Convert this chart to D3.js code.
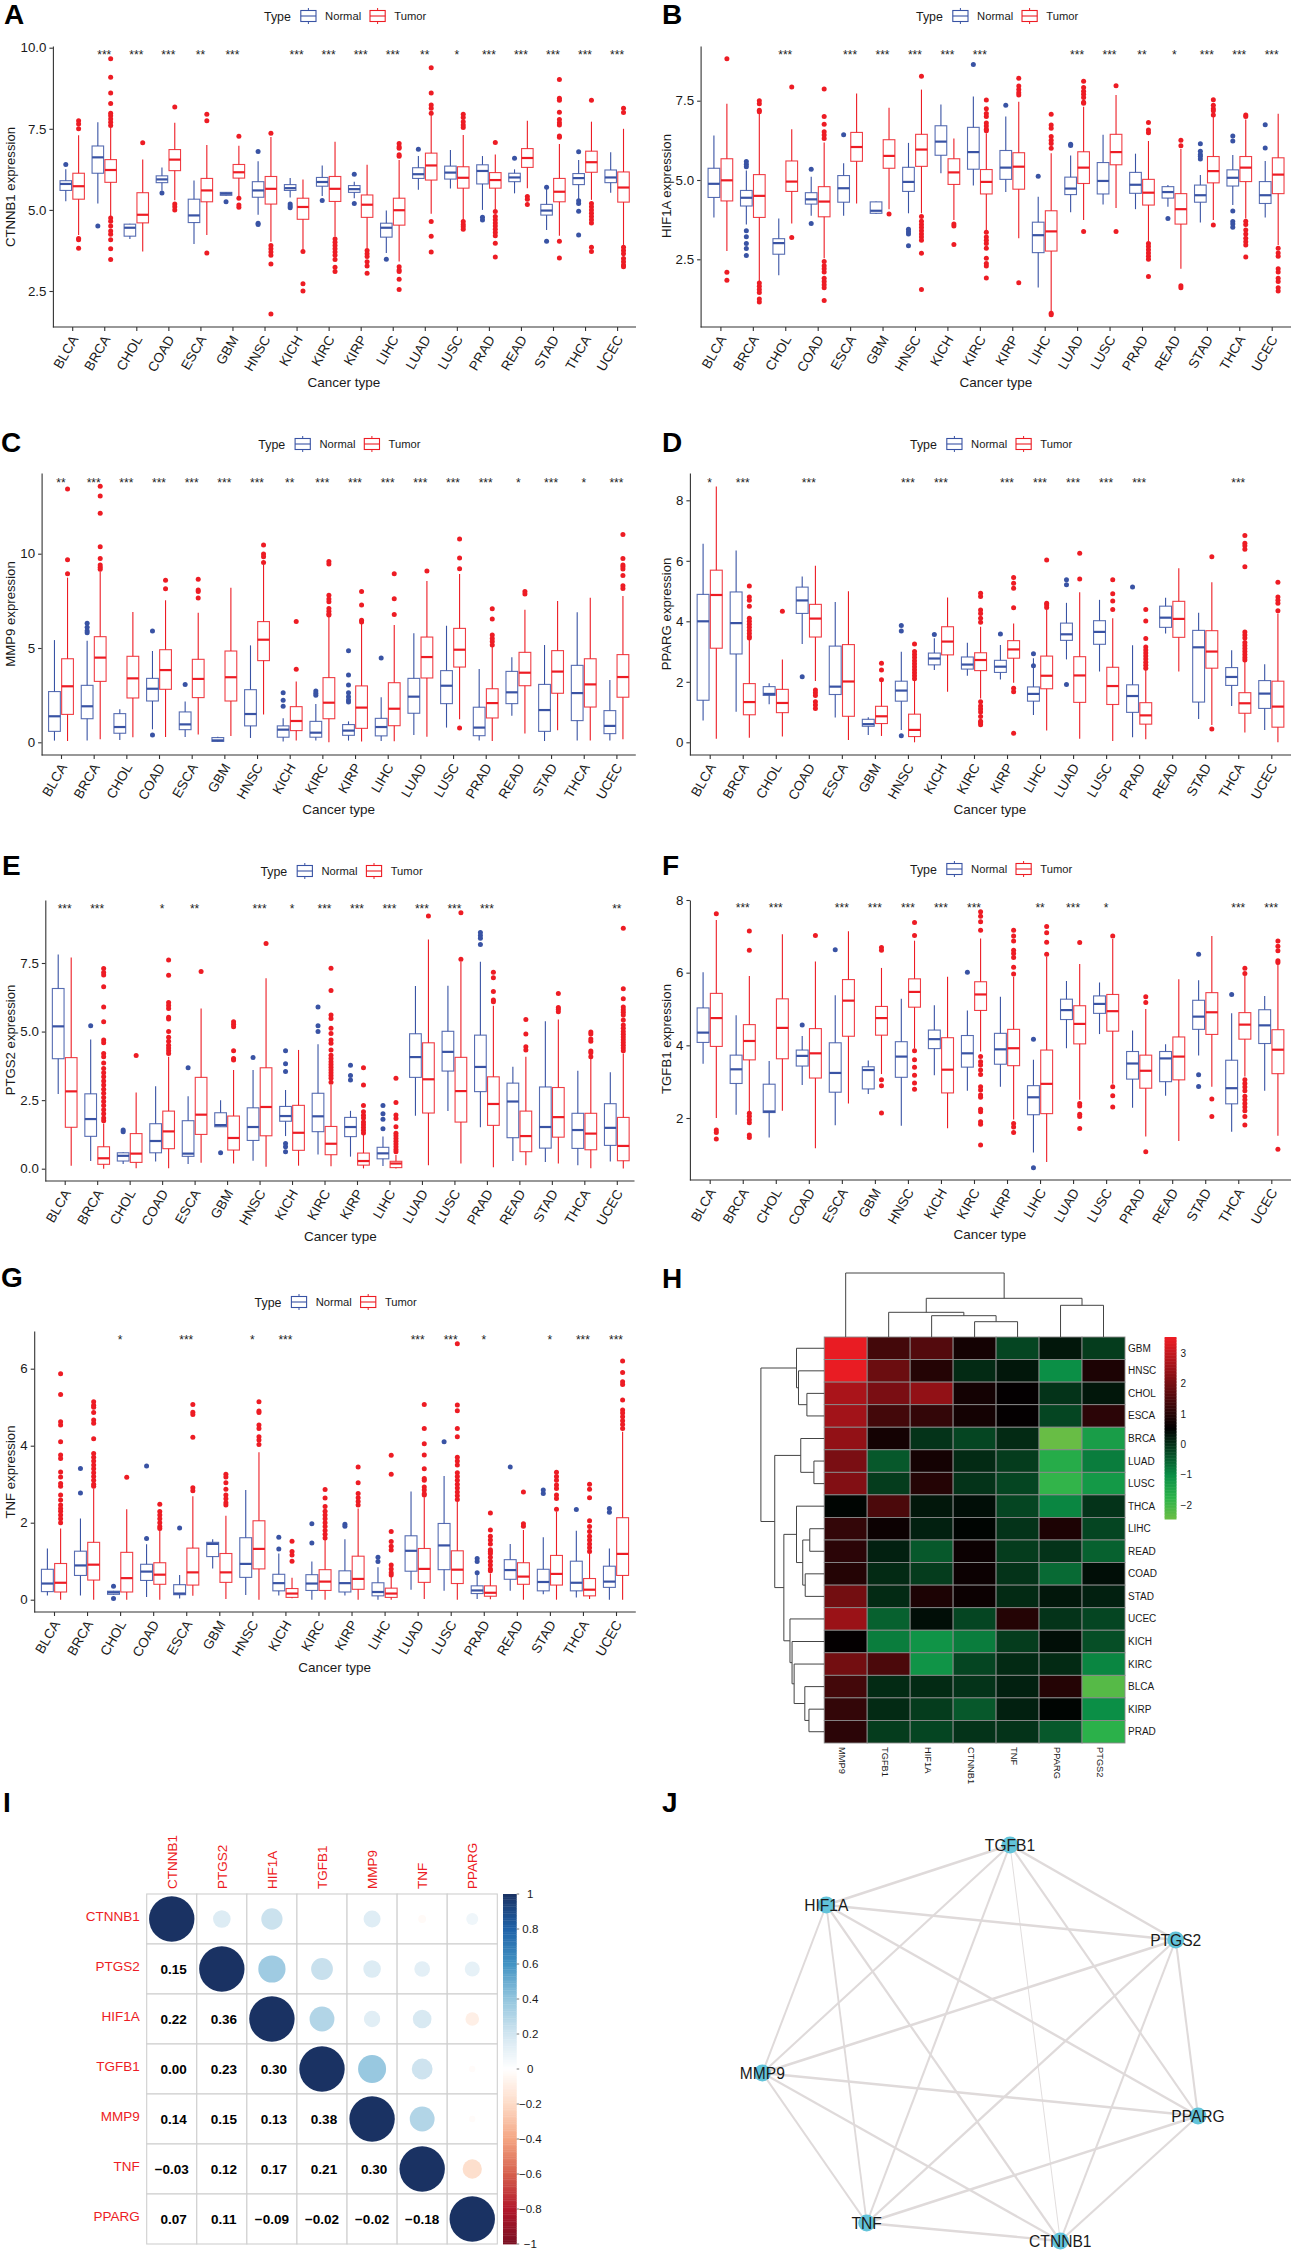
<!DOCTYPE html>
<html><head><meta charset="utf-8">
<script src="https://cdnjs.cloudflare.com/ajax/libs/d3/7.8.5/d3.min.js"></script>
<style>html,body{margin:0;padding:0;background:#fff}svg{display:block;font-family:"Liberation Sans",Arial,sans-serif}</style>
</head><body><svg id="fig" width="1291" height="2250"></svg>
<script>
// ---------- data: each box is [lower whisker, q1, median, q3, upper whisker, [outliers]] ----------
const cancers=["BLCA","BRCA","CHOL","COAD","ESCA","GBM","HNSC","KICH","KIRC","KIRP","LIHC","LUAD","LUSC","PRAD","READ","STAD","THCA","UCEC"];
const groupNames=["Normal","Tumor"];

const ctnnb1Normal=[[5.27,5.6,5.8,5.9,6.25,[6.4]],[5.2,6.13,6.62,6.97,7.7,[4.5]],[4.1,4.19,4.45,4.56,4.57,[]],[5.6,5.84,5.94,6.05,6.31,[5.52]],[3.95,4.61,4.83,5.33,5.91,[]],[5.44,5.45,5.5,5.54,5.55,[5.25]],[4.85,5.39,5.6,5.87,6.5,[6.8,4.59,4.55]],[5.38,5.6,5.67,5.78,5.98,[5.18,5.12,5.07]],[5.43,5.73,5.86,6.0,6.37,[5.29]],[5.36,5.54,5.64,5.75,5.87,[6.1,5.2]],[3.67,4.16,4.45,4.59,4.98,[3.48]],[5.62,5.97,6.1,6.3,6.66,[6.87]],[5.66,5.95,6.15,6.35,6.85,[]],[5.0,5.8,6.2,6.39,6.66,[4.77,4.69]],[5.51,5.87,6.0,6.13,6.25,[6.59]],[4.38,4.84,4.98,5.17,5.65,[5.7,4.03]],[5.31,5.78,5.98,6.12,6.54,[6.79,5.28,5.2,4.96,4.23]],[5.53,5.84,6.0,6.23,6.78,[]]];
const ctnnb1Tumor=[[4.23,5.33,5.73,6.13,7.3,[7.75,7.65,7.5,4.12,4.08,3.82]],[4.8,5.85,6.23,6.55,7.55,[9.66,9.09,8.6,8.28,7.98,7.9,7.8,7.7,7.6,4.75,4.65,4.5,4.35,4.25,4.08,3.8,3.47]],[3.72,4.6,4.85,5.53,6.55,[7.07]],[5.3,6.21,6.55,6.86,7.69,[8.17,5.18,5.1,5.0]],[4.23,5.25,5.6,5.97,7.0,[7.95,7.75,3.67]],[5.36,5.98,6.16,6.4,6.98,[7.27,5.36,5.15,5.08]],[4.02,5.18,5.65,6.03,7.25,[7.36,3.9,3.8,3.7,3.6,3.33,1.79]],[3.77,4.71,5.09,5.36,5.94,[3.72,2.72,2.5]],[4.18,5.26,5.65,6.03,7.1,[4.1,4.0,3.9,3.8,3.7,3.6,3.47,3.23,3.1]],[3.82,4.77,5.16,5.46,6.39,[3.75,3.65,3.56,3.4,3.27,3.05]],[3.41,4.53,4.99,5.36,6.54,[7.05,6.95,6.9,6.7,6.65,3.25,3.15,3.1,2.86,2.55]],[4.88,5.92,6.37,6.75,7.93,[9.38,8.6,8.23,8.13,7.98,4.64,4.19,3.7]],[4.69,5.67,5.99,6.33,7.31,[7.95,7.85,7.72,7.62,7.54,4.64,4.55,4.48,4.4]],[5.02,5.67,5.92,6.15,6.71,[7.08,4.95,4.8,4.7,4.6,4.5,4.4,4.3,4.2,3.97,3.55]],[5.67,6.31,6.6,6.89,7.75,[5.41,5.33,5.17]],[4.2,5.25,5.56,5.97,7.03,[9.02,8.44,8.38,8.01,7.79,7.69,7.62,7.28,7.24,4.03,3.52]],[5.31,6.16,6.47,6.81,7.72,[8.38,5.2,5.1,5.0,4.9,4.8,4.7,4.6,3.85,3.72]],[3.92,5.24,5.69,6.17,7.5,[8.13,8.0,3.85,3.75,3.65,3.5,3.4,3.3,3.25]]];
const ctnnb1Stars=["","***","***","***","**","***","","***","***","***","***","**","*","***","***","***","***","***"];

const hif1aNormal=[[3.82,4.45,4.88,5.37,6.4,[]],[3.6,4.18,4.44,4.67,5.3,[5.58,5.5,5.42,3.4,3.21,3.0,2.84,2.62]],[2.0,2.66,3.01,3.15,3.79,[]],[3.87,4.24,4.39,4.6,5.1,[5.34,3.63]],[3.87,4.3,4.74,5.14,5.53,[6.43]],[3.93,3.95,4.03,4.31,4.32,[]],[3.95,4.64,4.94,5.4,6.17,[3.45,3.37,3.3,2.93]],[5.21,5.78,6.21,6.71,7.38,[]],[4.83,5.34,5.88,6.66,7.63,[8.64]],[4.62,5.02,5.39,5.93,7.0,[7.36]],[1.61,2.71,3.26,3.67,4.47,[5.12]],[3.98,4.54,4.73,5.09,5.77,[6.13,6.09]],[4.23,4.56,4.97,5.55,6.43,[]],[4.08,4.58,4.85,5.24,5.83,[]],[4.16,4.43,4.62,4.79,4.84,[3.79]],[3.66,4.3,4.52,4.84,5.16,[6.14,5.91,5.8,5.75,5.66]],[4.21,4.81,5.07,5.32,5.79,[6.39,6.23,4.02,3.69,3.61,3.51]],[3.82,4.26,4.52,4.95,5.6,[6.74,6.01]]];
const hif1aTumor=[[2.76,4.34,4.99,5.67,7.4,[8.82,2.09,1.84]],[1.8,3.82,4.5,5.17,7.1,[7.5,7.4,7.2,7.15,1.75,1.65,1.55,1.45,1.25,1.15]],[3.63,4.64,4.95,5.6,6.6,[7.93,3.19]],[2.53,3.84,4.32,4.79,6.18,[7.87,7.0,6.76,6.52,6.42,6.31,2.43,2.3,2.2,2.1,1.9,1.8,1.7,1.6,1.2]],[4.26,5.59,6.04,6.5,7.73,[]],[4.08,5.37,5.76,6.27,7.28,[3.93]],[3.95,5.43,5.96,6.44,7.85,[8.27,3.85,3.7,3.6,3.5,3.4,3.3,3.2,3.1,2.69,1.55]],[3.74,4.86,5.24,5.67,6.31,[3.61,3.55,2.97]],[3.42,4.56,4.94,5.33,6.47,[7.52,7.25,7.1,7.0,6.8,6.7,6.6,6.55,3.35,3.2,3.1,3.0,2.85,2.53,2.37,2.29,1.91]],[3.16,4.71,5.42,5.86,7.47,[8.21,7.96,7.85,7.75,7.68,1.76]],[0.85,2.76,3.38,4.03,5.84,[7.07,6.73,6.63,6.37,6.25,6.15,6.0,0.8,0.75]],[3.74,4.89,5.39,5.89,7.31,[8.11,7.92,7.8,7.7,7.6,7.45,7.42,3.38]],[4.12,5.48,5.88,6.44,7.68,[7.97,3.38]],[3.06,4.21,4.6,5.02,6.23,[6.81,6.58,6.49,3.0,2.9,2.8,2.7,2.6,2.5,1.96]],[2.2,3.61,4.08,4.57,5.98,[6.25,6.08,1.67,1.6]],[3.74,4.91,5.28,5.74,7.0,[7.53,7.36,7.25,7.18,7.05,3.58]],[3.79,4.95,5.39,5.74,6.91,[7.05,7.0,3.7,3.6,3.42,3.3,3.16,3.05,2.95,2.57]],[2.95,4.57,5.17,5.7,7.09,[2.85,2.7,2.6,2.2,2.1,1.9,1.8,1.6,1.5]]];
const hif1aStars=["","","***","","***","***","***","***","***","","","***","***","**","*","***","***","***"];

const mmp9Normal=[[0.09,0.58,1.38,2.69,5.42,[]],[0.09,1.25,1.91,3.02,5.39,[6.31,6.1,5.92,5.81]],[0.12,0.48,0.81,1.52,1.75,[]],[0.69,2.19,2.84,3.39,4.84,[5.9,0.39]],[0.28,0.67,0.95,1.61,2.16,[3.07]],[0.03,0.05,0.1,0.25,0.3,[]],[0.23,0.87,1.5,2.79,5.14,[]],[0.04,0.27,0.67,0.87,1.27,[2.63,2.23,1.91]],[0.09,0.27,0.51,1.11,2.03,[2.72,2.6,2.49]],[0.09,0.37,0.62,0.94,1.11,[4.86,3.57,3.04,2.63,2.42,2.24,2.14]],[0.07,0.34,0.81,1.27,2.39,[4.47]],[0.39,1.54,2.42,3.39,5.78,[]],[0.78,2.05,3.0,3.8,6.18,[]],[0.09,0.35,0.78,1.86,3.89,[]],[1.41,2.05,2.65,3.76,4.51,[]],[0.07,0.58,1.71,3.07,5.16,[]],[0.09,1.15,2.61,4.08,6.89,[]],[0.09,0.46,0.87,1.68,3.3,[]]];
const mmp9Tumor=[[0.07,1.48,2.97,4.43,8.73,[13.43,9.68,8.94]],[0.16,3.23,4.49,5.6,9.05,[13.57,13.06,12.14,10.37,9.75,9.4,9.28,9.17]],[0.27,2.35,3.39,4.56,6.91,[]],[0.28,2.81,3.83,4.91,7.53,[8.59,8.14]],[0.42,2.37,3.36,4.4,6.87,[8.64,8.07,7.99,7.65]],[0.34,2.19,3.45,4.84,8.2,[]],[1.48,4.33,5.44,6.4,9.4,[10.46,9.98,9.84,9.54]],[0.09,0.62,1.13,1.89,3.22,[6.4,3.87]],[0,1.25,2.1,3.43,6.66,[9.58,9.45,7.8,7.6,7.45,7.1,6.95,6.8,6.75]],[0.04,0.74,1.84,2.99,6.3,[7.99,7.28,6.47,6.38]],[0.05,0.88,1.78,3.16,6.22,[8.94,7.61,6.78]],[0.3,3.41,4.52,5.58,8.55,[9.08]],[1.22,3.99,4.91,6.04,8.92,[10.78,9.77,9.2,0.76]],[0.07,1.29,2.08,2.84,5.07,[7.08,6.54,5.69,5.51,5.34,5.16]],[0.46,3.0,3.69,4.77,7.03,[7.99,7.86]],[0.64,2.6,3.75,4.86,7.49,[]],[0.09,1.87,3.07,4.43,7.67,[]],[0.16,2.39,3.46,4.65,7.76,[11.02,9.74,9.4,9.31,9.19,8.85,8.3,8.16]]];
const mmp9Stars=["**","***","***","***","***","***","***","**","***","***","***","***","***","***","*","***","*","***"];

const ppargNormal=[[0.72,1.39,4.0,4.89,6.56,[]],[1.01,2.92,3.94,4.97,6.34,[]],[1.26,1.55,1.6,1.84,1.95,[]],[3.25,4.26,4.69,5.13,5.48,[2.17]],[0.82,1.58,1.84,3.18,4.64,[]],[0.24,0.53,0.6,0.76,0.83,[]],[0.41,1.36,1.71,2.02,2.99,[3.86,3.68,0.22]],[2.39,2.56,2.77,2.95,3.44,[3.56]],[2.2,2.42,2.57,2.82,3.29,[]],[2.08,2.31,2.5,2.71,3.22,[3.58]],[0.9,1.36,1.6,1.83,2.78,[2.93,2.53]],[2.74,3.37,3.57,3.94,4.61,[5.37,5.21,1.91]],[2.34,3.24,3.65,4.02,4.71,[]],[0.17,0.99,1.53,1.9,3.21,[5.13]],[3.6,3.8,4.12,4.5,4.78,[]],[0.77,1.33,3.14,3.7,4.28,[]],[1.2,1.88,2.16,2.47,3.04,[]],[0.41,1.12,1.61,2.04,2.58,[]]];
const ppargTumor=[[0.12,3.11,4.87,5.69,8.46,[]],[0.15,0.91,1.33,1.94,3.38,[5.17,4.8,4.7,4.5,4.1,4.0,3.9,3.8,3.7,3.6,3.5,3.45]],[0.19,0.98,1.3,1.75,2.74,[4.33]],[2.03,3.48,4.09,4.56,5.84,[1.73,1.64,1.55,1.34,1.23,1.12]],[0.08,0.86,2.01,3.23,4.99,[]],[0.21,0.62,0.86,1.19,2.0,[2.61,2.39,2.07]],[0,0.19,0.41,0.93,2.17,[3.25,3.0,2.9,2.8,2.7,2.6,2.5,2.4,2.3,2.2,2.1]],[1.67,2.89,3.33,3.82,4.79,[]],[1.45,2.37,2.72,2.96,3.82,[4.93,4.82,4.37,4.26,4.1,3.97,1.34,1.2,1.1,1.0,0.85,0.7,0.65,0.58]],[1.97,2.78,3.07,3.36,3.93,[5.45,5.26,5.09,4.45,1.79,1.67,0.3]],[0.39,1.77,2.2,2.85,4.37,[6.03,4.6,4.54,4.46]],[0.12,1.32,2.21,2.83,4.96,[6.25,5.4]],[0.04,1.25,1.86,2.48,4.1,[5.37,4.91,4.67,4.39]],[0.1,0.6,0.89,1.31,2.45,[4.39,4.01,3.43,3.15,3.05,2.95,2.85,2.75,2.65,2.55,2.45]],[2.34,3.47,4.08,4.66,5.75,[]],[0.57,2.45,3.0,3.69,5.29,[6.13,0.44]],[0.32,0.96,1.29,1.64,2.67,[6.84,6.58,6.5,6.38,5.8,3.65,3.55,3.45,3.3,3.2,3.1,3.0,2.9,2.8,2.72]],[0,0.5,1.18,2.02,4.26,[5.29,4.8,4.7,4.6,4.35]]];
const ppargStars=["*","***","","***","","","***","***","","***","***","***","***","***","","","***",""];

const ptgs2Normal=[[2.72,4.01,5.19,6.57,7.81,[]],[0.28,1.18,1.81,2.73,4.71,[5.21]],[0.17,0.28,0.47,0.58,0.6,[1.41,1.35]],[0.26,0.58,1.01,1.64,3.01,[]],[0.17,0.45,0.55,1.75,2.64,[3.68]],[1.52,1.53,1.59,2.04,2.5,[0.58]],[0.29,1.03,1.52,2.22,3.6,[4.05]],[1.19,1.73,1.92,2.27,2.87,[4.3,3.83,3.54,0.92,0.8,0.62]],[0.52,1.35,1.91,2.75,4.54,[5.9,5.21,5.0]],[0.44,1.17,1.52,1.87,2.11,[3.77,3.4,3.23]],[0.1,0.36,0.56,0.78,1.17,[2.3,2.0,1.8,1.46]],[1.93,3.33,4.07,4.92,6.66,[]],[2.1,3.56,4.26,5.01,6.67,[]],[1.51,2.81,3.71,4.87,7.55,[8.61,8.5,8.4,8.17]],[0.28,1.13,2.45,3.12,3.72,[]],[0.24,0.75,1.52,2.98,5.38,[]],[0.13,0.74,1.41,2.02,3.57,[]],[0.26,0.85,1.49,2.37,3.52,[]]];
const ptgs2Tumor=[[0.11,1.51,2.82,4.05,7.7,[]],[0,0.16,0.38,0.8,1.65,[7.3,7.15,7.06,6.63,5.9,5.36,4.69,4.59,4.2,4.08,3.85,3.65,3.5,3.35,3.2,3.05,2.9,2.75,2.6,2.45,2.3,2.15,2.0,1.85,1.75]],[0.02,0.23,0.55,1.28,2.78,[4.13]],[0.02,0.73,1.36,2.1,4.08,[7.61,7.05,6.06,5.95,5.84,5.52,5.46,5.0,4.79,4.65,4.5,4.4,4.3,4.2]],[0.22,1.25,1.97,3.33,5.84,[7.19]],[0.19,0.68,1.12,1.92,3.6,[5.36,5.27,5.18,4.3,4.02,3.96]],[0.07,1.2,2.25,3.68,6.94,[8.21]],[0.11,0.67,1.31,2.31,4.33,[]],[0.09,0.51,0.91,1.54,3.05,[7.31,6.5,5.6,5.48,5.12,4.93,4.69,4.57,4.33,4.14,4.02,3.9,3.8,3.7,3.6,3.5,3.4,3.3,3.15]],[0.01,0.13,0.28,0.57,1.35,[3.68,3.05,2.3,2.08,1.95,1.85,1.7,1.6,1.5,1.4,1.3]],[0.01,0.04,0.19,0.27,0.5,[3.3,2.41,1.96,1.83,1.53,1.29,1.2,1.1,1.0,0.9,0.8,0.7,0.62]],[0.13,2.03,3.26,4.59,8.36,[9.21]],[0.19,1.7,2.83,4.06,7.55,[9.33,7.64]],[0.05,1.58,2.36,3.35,5.94,[7.16,6.96,6.46,6.15,6.09]],[0.13,0.62,1.19,2.1,4.08,[5.44,4.91,4.45,4.33]],[0.19,1.15,1.88,2.96,5.44,[6.39,5.88,5.81,5.72]],[0.02,0.69,1.28,2.02,4.08,[4.98,4.91,4.73,4.65,4.29,4.23,4.08]],[0.01,0.29,0.83,1.87,4.2,[8.77,6.56,6.2,5.9,5.8,5.7,5.6,5.42,5.24,5.12,5.0,4.9,4.8,4.7,4.6,4.5,4.4,4.3]]];
const ptgs2Stars=["***","***","","*","**","","***","*","***","***","***","***","***","***","","","","**"];

const tgfb1Normal=[[3.49,4.08,4.35,5.03,6.01,[]],[2.09,2.95,3.34,3.73,4.83,[]],[1.46,2.15,2.18,2.93,3.57,[]],[2.91,3.43,3.71,3.87,4.26,[4.56]],[1.8,2.71,3.24,4.07,5.38,[6.63]],[2.66,2.8,3.32,3.41,3.58,[]],[1.79,3.12,3.69,4.1,5.28,[]],[3.18,3.91,4.17,4.42,5.1,[]],[2.75,3.4,3.78,4.27,4.96,[6.01]],[2.86,3.48,3.89,4.33,5.34,[]],[1.05,2.09,2.57,2.89,3.6,[4.17,0.63]],[3.92,4.71,4.97,5.27,5.77,[]],[4.31,4.88,5.14,5.36,5.73,[]],[2.28,3.07,3.5,3.83,4.41,[]],[2.61,3.0,3.64,3.83,4.03,[]],[3.72,4.44,4.79,5.24,5.79,[6.51,3.19,2.87]],[1.62,2.39,2.82,3.59,4.88,[5.4]],[2.75,4.05,4.55,4.98,5.36,[]]];
const tgfb1Tumor=[[2.0,3.97,4.75,5.43,7.45,[7.62,1.67,1.6,1.42]],[2.17,3.6,4.12,4.57,5.91,[7.15,6.62,2.13,2.05,1.95,1.87,1.53,1.46]],[2.2,3.63,4.48,5.28,7.06,[]],[1.17,3.1,3.78,4.46,6.31,[7.02]],[2.4,4.25,5.23,5.81,7.14,[]],[3.21,4.28,4.75,5.07,6.13,[6.69,6.62,3.05,2.89,2.14]],[3.92,5.05,5.47,5.83,6.88,[7.38,7.02,3.85,3.6,3.4,3.18,2.96,2.79]],[1.72,2.69,3.33,4.21,5.89,[]],[3.83,4.96,5.4,5.75,6.94,[7.68,7.55,7.4,7.17,3.69,3.55,3.46,3.32,3.2,2.86,2.77,2.63,2.57,2.24,2.17,1.9,1.83,1.26]],[1.96,3.44,3.92,4.44,5.89,[7.17,7.01,6.87,6.62,6.53,6.42,6.15,5.96,1.85,1.75,1.6]],[0.79,2.12,2.94,3.87,6.44,[7.27,7.1,6.84,6.51]],[2.5,4.04,4.59,5.09,6.24,[6.83,2.4,2.33,2.1,2.04,1.71]],[2.94,4.39,4.94,5.4,6.93,[7.01,2.86,2.61,2.3]],[1.49,2.82,3.3,3.73,5.0,[5.34,5.18,1.07]],[1.37,3.05,3.69,4.23,5.82,[]],[2.86,4.3,4.91,5.45,7.01,[2.52,2.04]],[3.14,4.17,4.57,4.9,5.92,[6.12,5.98,3.05,2.95,2.85,2.75,2.6,2.5,2.4,2.3,2.2,2.04,1.81]],[1.51,3.22,3.88,4.43,6.24,[6.87,6.73,6.6,6.33,6.28,1.14]]];
const tgfb1Stars=["","***","***","","***","***","***","***","***","","**","***","*","","","","***","***"];

const tnfNormal=[[0.11,0.21,0.42,0.79,1.33,[]],[0.11,0.63,0.89,1.26,2.11,[3.41,2.77]],[0.13,0.14,0.19,0.22,0.23,[0.35,0.03]],[0.07,0.5,0.73,0.92,1.44,[3.47,1.59]],[0.03,0.13,0.16,0.39,0.64,[1.86]],[0.81,1.12,1.45,1.49,1.57,[]],[0.12,0.58,0.93,1.61,2.85,[]],[0.11,0.23,0.43,0.66,1.2,[1.62,1.32]],[0,0.24,0.42,0.65,0.99,[1.97,1.47]],[0.11,0.2,0.43,0.75,1.57,[1.96,1.91]],[0,0.1,0.2,0.44,0.84,[1.1,0.99]],[0.26,0.74,1.27,1.66,2.81,[]],[0.23,0.78,1.41,1.98,3.21,[4.1]],[0.02,0.16,0.24,0.36,0.64,[1.07,0.99,0.7]],[0.23,0.53,0.77,1.04,1.45,[3.45]],[0.14,0.23,0.46,0.79,1.62,[2.85,2.76]],[0.06,0.23,0.44,1.0,1.79,[2.34]],[0,0.32,0.47,0.87,1.33,[2.37,2.27]]];
const tnfTumor=[[0,0.2,0.44,0.94,1.85,[5.87,5.33,4.62,4.54,4.1,3.76,3.67,3.32,3.19,3.02,2.95,2.72,2.59,2.46,2.37,2.3,2.2,2.1,2.0]],[0,0.51,0.91,1.49,2.89,[5.14,5.05,5.0,4.86,4.67,4.58,4.18,3.8,3.7,3.6,3.5,3.4,3.3,3.2,3.1,3.0,2.95]],[0,0.2,0.56,1.23,2.35,[3.18]],[0,0.4,0.65,0.96,1.81,[2.48,2.29,2.2,2.1,2.0,1.9,1.85]],[0.1,0.38,0.71,1.34,2.69,[5.07,4.87,4.81,4.22,2.91,2.83]],[0.02,0.45,0.71,1.2,2.18,[3.26,3.19,3.04,2.87,2.72,2.62,2.52,2.46]],[0,0.8,1.32,2.05,3.83,[5.14,4.9,4.86,4.54,4.45,4.23,4.15,4.03]],[0.04,0.06,0.16,0.29,0.57,[1.52,1.25,1.16,1.0]],[0,0.24,0.47,0.78,1.57,[2.86,2.64,2.42,2.3,2.2,2.1,2.0,1.9,1.8,1.7,1.6]],[0,0.27,0.54,1.13,2.37,[3.45,3.04,2.76,2.65,2.55,2.46]],[0,0.06,0.16,0.3,0.6,[3.75,3.26,1.77,1.51,1.39,1.29,0.9,0.8,0.7,0.64]],[0.02,0.45,0.8,1.33,2.66,[5.07,4.45,4.05,3.76,3.4,3.15,3.1,2.93,2.85,2.75,2.72]],[0,0.42,0.78,1.27,2.55,[6.65,5.06,4.91,4.45,4.23,3.7,3.6,3.5,3.3,3.2,3.1,3.0,2.9,2.8,2.7,2.6]],[0.01,0.09,0.18,0.36,0.68,[2.25,1.81,1.65,1.55,1.45,1.3,1.25,1.2,1.1,1.0,0.9,0.8,0.75]],[0,0.4,0.6,0.96,1.81,[2.8,1.97,1.91]],[0,0.38,0.67,1.15,2.29,[3.31,3.2,3.1,2.98,2.89,2.72,2.63,2.35]],[0.02,0.1,0.26,0.55,1.2,[3.0,2.87,2.65,2.05,1.9,1.77,1.65,1.55,1.45,1.35,1.25]],[0,0.63,1.19,2.13,4.36,[6.2,5.9,5.66,5.59,5.19,4.93,4.85,4.75,4.65,4.55,4.45]]];
const tnfStars=["","","*","","***","","*","***","","","","***","***","*","","*","***","***"];

// heat map
const heatColumns=["MMP9","TGFB1","HIF1A","CTNNB1","TNF","PPARG","PTGS2"];
const heatRows=["GBM","HNSC","CHOL","ESCA","BRCA","LUAD","LUSC","THCA","LIHC","READ","COAD","STAD","UCEC","KICH","KIRC","BLCA","KIRP","PRAD"];
const heatValues=[[3.5,1.4,1.6,0.8,-0.2,0.3,-0.1],[3.5,1.9,1.0,0.1,0.3,-1.0,0.9],[2.7,2.1,2.4,0.8,0.6,0.0,0.3],[2.6,1.4,1.2,0.8,0.6,-0.2,1.1],[2.4,0.8,0.0,-0.2,0.1,-2.4,-1.3],[2.1,-0.4,0.8,0.1,-0.1,-1.6,-0.8],[2.2,-0.1,1.0,0.0,-0.2,-1.8,-1.2],[0.5,1.5,0.3,0.4,-0.2,-0.9,0.0],[1.2,0.7,0.2,0.5,0.0,0.9,-0.2],[1.1,0.2,-0.4,0.7,-0.1,0.0,-0.5],[1.0,0.1,-0.1,0.7,0.0,-0.6,0.4],[2.0,0.1,0.9,0.7,0.1,0.3,0.2],[2.5,-0.5,0.4,-0.2,1.0,0.0,-0.2],[0.6,-0.8,-1.1,-0.8,-0.1,0.4,-0.3],[2.0,1.5,-1.1,-0.2,0.1,0.1,-0.9],[1.4,0.1,0.1,0.0,0.2,1.0,-2.2],[1.2,0.1,-0.1,-0.4,0.2,0.5,-1.0],[1.1,-0.1,-0.2,0.0,0.0,-0.4,-1.7]];
const heatTicks=[3,2,1,0,-1,-2];
const columnTree=[64,'MMP9',[38.7,[24.7,'TGFB1',[21.3,'HIF1A',[15.3,'CTNNB1','TNF']]],[31.7,'PPARG','PTGS2']]];
const rowTree=[64,[28,'GBM',[26,'HNSC',[17.5,'CHOL','ESCA']]],[50,[23.7,'BRCA',[10.4,'LUAD','LUSC']],[40.8,[28,'THCA',[21.7,[14.6,'LIHC','READ'],[19.2,'COAD','STAD']]],[34.6,'UCEC',[32.5,'KICH',[30.4,'KIRC',[19.6,'BLCA',[15.4,'KIRP','PRAD']]]]]]]];

// correlation matrix
const corrGenes=["CTNNB1","PTGS2","HIF1A","TGFB1","MMP9","TNF","PPARG"];
const corrValues=[[1,0.15,0.22,0,0.14,-0.03,0.07],[0.15,1,0.36,0.23,0.15,0.12,0.11],[0.22,0.36,1,0.30,0.13,0.17,-0.09],[0,0.23,0.30,1,0.38,0.21,-0.02],[0.14,0.15,0.13,0.38,1,0.30,-0.02],[-0.03,0.12,0.17,0.21,0.30,1,-0.18],[0.07,0.11,-0.09,-0.02,-0.02,-0.18,1]];
const corrTicks=[1,0.8,0.6,0.4,0.2,0,-0.2,-0.4,-0.6,-0.8,-1];

// network
const netNodes=["TGFB1","HIF1A","PTGS2","MMP9","PPARG","TNF","CTNNB1"];
const netEdges=[["TGFB1","HIF1A",1],["TGFB1","PTGS2",1],["TGFB1","MMP9",0.85],["TGFB1","TNF",0.85],["TGFB1","CTNNB1",0.3],["TGFB1","PPARG",0.9],["HIF1A","PTGS2",1.1],["HIF1A","MMP9",0.8],["HIF1A","TNF",0.75],["HIF1A","CTNNB1",0.9],["HIF1A","PPARG",1],["PTGS2","MMP9",1.1],["PTGS2","TNF",0.95],["PTGS2","CTNNB1",0.85],["PTGS2","PPARG",0.85],["MMP9","PPARG",1.1],["MMP9","TNF",0.85],["MMP9","CTNNB1",0.95],["TNF","PPARG",1.05],["TNF","CTNNB1",1],["PPARG","CTNNB1",0.85]];

// ---------- layout (not data) ----------
const FONT_INK="#1a1a1a", BLUE="#3953A4", RED="#ED1C24";
const groupColor=[BLUE,RED];
const netLayout={TGFB1:[1010,1845],HIF1A:[826.3,1905],PTGS2:[1175.7,1940],MMP9:[762.4,2073],PPARG:[1198,2116],TNF:[866.7,2223],CTNNB1:[1060.3,2241]};
const panels=[
 {letter:"A",lx:4,ly:24,gene:"CTNNB1",n:ctnnb1Normal,t:ctnnb1Tumor,stars:ctnnb1Stars,axisX:52.9,right:636,first:72.2,last:617.1,top:46,bottom:327,cal:[10,47.7,2.5,291],ticks:[2.5,5,7.5,10],fmt:".1f",starY:52,legX:264,legY:16,titleX:344,titleY:382,yTitleX:10,yTitleY:187},
 {letter:"B",lx:662,ly:24,gene:"HIF1A",n:hif1aNormal,t:hif1aTumor,stars:hif1aStars,axisX:700.6,right:1291,first:720.4,last:1271.7,top:46,bottom:327,cal:[7.5,100.7,2.5,259.3],ticks:[2.5,5,7.5],fmt:".1f",starY:52,legX:916,legY:16,titleX:996,titleY:382,yTitleX:665.6,yTitleY:186},
 {letter:"C",lx:1,ly:452,gene:"MMP9",n:mmp9Normal,t:mmp9Tumor,stars:mmp9Stars,axisX:41.6,right:635.8,first:61,last:616.4,top:473,bottom:755,cal:[10,553.7,0,742.3],ticks:[0,5,10],fmt:"d",starY:480,legX:258.3,legY:444,titleX:338.7,titleY:809,yTitleX:10,yTitleY:614},
 {letter:"D",lx:662,ly:452,gene:"PPARG",n:ppargNormal,t:ppargTumor,stars:ppargStars,axisX:689.9,right:1291,first:709.7,last:1271.3,top:473,bottom:755,cal:[8,500.3,0,742.3],ticks:[0,2,4,6,8],fmt:"d",starY:480,legX:910,legY:444,titleX:990,titleY:809,yTitleX:665.6,yTitleY:614},
 {letter:"E",lx:2,ly:875,gene:"PTGS2",n:ptgs2Normal,t:ptgs2Tumor,stars:ptgs2Stars,axisX:45.3,right:634.5,first:64.7,last:616.8,top:900,bottom:1181,cal:[7.5,963,0,1168.7],ticks:[0,2.5,5,7.5],fmt:".1f",starY:906,legX:260.4,legY:871,titleX:340.3,titleY:1236,yTitleX:10,yTitleY:1040},
 {letter:"F",lx:662,ly:875,gene:"TGFB1",n:tgfb1Normal,t:tgfb1Tumor,stars:tgfb1Stars,axisX:689.9,right:1291,first:709.7,last:1271.3,top:900,bottom:1180,cal:[8,900,2,1118],ticks:[2,4,6,8],fmt:"d",starY:905,legX:910,legY:869,titleX:990,titleY:1234,yTitleX:665.6,yTitleY:1039},
 {letter:"G",lx:1,ly:1287,gene:"TNF",n:tnfNormal,t:tnfTumor,stars:tnfStars,axisX:34.2,right:635.8,first:54,last:616,top:1331,bottom:1612,cal:[6,1368.7,0,1599.7],ticks:[0,2,4,6],fmt:"d",starY:1337,legX:254.6,legY:1302,titleX:334.6,titleY:1667,yTitleX:10,yTitleY:1472}
];
const svg=d3.select("#fig");
svg.append("rect").attr("width",1291).attr("height",2250).attr("fill","#fff");
function letter(t,x,y){svg.append("text").attr("x",x).attr("y",y).attr("font-size",28).attr("font-weight","bold").attr("fill","#000").text(t);}

function drawBoxPanel(p){
  letter(p.letter,p.lx,p.ly);
  const g=svg.append("g");
  const x=d3.scalePoint().domain(cancers).range([p.first,p.last]);
  const cal=d3.scaleLinear().domain([p.cal[0],p.cal[2]]).range([p.cal[1],p.cal[3]]);
  const y=d3.scaleLinear().domain([cal.invert(p.bottom),cal.invert(p.top)]).range([p.bottom,p.top]);
  const step=x.step(), bw=step*0.36, off=step*0.2;
  const dodge=d3.scaleOrdinal().domain(groupNames).range([-off,off]);
  [p.n,p.t].forEach((series,gi)=>{
    const col=groupColor[gi], name=groupNames[gi];
    const marks=g.append("g").selectAll("g").data(series).join("g")
      .attr("transform",(d,i)=>`translate(${x(cancers[i])+dodge(name)},0)`);
    marks.append("line").attr("y1",d=>y(d[0])).attr("y2",d=>y(d[4])).attr("stroke",col).attr("stroke-width",1.1);
    marks.append("rect").attr("x",-bw/2).attr("width",bw).attr("y",d=>y(d[3])).attr("height",d=>Math.max(0.5,y(d[1])-y(d[3])))
      .attr("fill","#fff").attr("stroke",col).attr("stroke-width",1.1).attr("stroke-opacity",0.85);
    marks.append("line").attr("x1",-bw/2).attr("x2",bw/2).attr("y1",d=>y(d[2])).attr("y2",d=>y(d[2])).attr("stroke",col).attr("stroke-width",2.2);
    marks.selectAll("circle").data(d=>d[5]).join("circle").attr("cy",d=>y(d)).attr("r",2.5).attr("fill",col);
  });
  // stars
  g.append("g").selectAll("text").data(p.stars).join("text")
    .attr("x",(d,i)=>x(cancers[i])).attr("y",p.starY+7).attr("text-anchor","middle").attr("font-size",12).attr("fill","#222").text(d=>d);
  // axes
  const ya=g.append("g").attr("transform",`translate(${p.axisX},0)`)
    .call(d3.axisLeft(y).tickValues(p.ticks).tickFormat(d3.format(p.fmt)).tickSize(3.5).tickSizeOuter(0));
  ya.selectAll("text").attr("font-size",13.3).attr("font-family","inherit").attr("fill",FONT_INK);
  ya.selectAll("line,path").attr("stroke","#333").attr("stroke-width",1.1);
  const xa=g.append("g").attr("transform",`translate(0,${p.bottom})`)
    .call(d3.axisBottom(x).tickSize(4).tickSizeOuter(0));
  xa.select(".domain").remove();
  xa.selectAll("line").attr("stroke","#333").attr("stroke-width",1.1);
  xa.selectAll("text").attr("font-size",13.6).attr("font-family","inherit").attr("fill",FONT_INK)
    .attr("text-anchor","end").attr("dy",0).attr("y",0)
    .attr("transform","translate(6,12) rotate(-60)");
  g.append("line").attr("x1",p.axisX).attr("x2",p.right).attr("y1",p.bottom).attr("y2",p.bottom).attr("stroke","#333").attr("stroke-width",1.2);
  // titles
  g.append("text").attr("x",p.titleX).attr("y",p.titleY+5).attr("text-anchor","middle").attr("font-size",13.5).attr("fill",FONT_INK).text("Cancer type");
  g.append("text").attr("transform",`translate(${p.yTitleX+5},${p.yTitleY}) rotate(-90)`).attr("text-anchor","middle").attr("font-size",13.2).attr("fill",FONT_INK).text(p.gene+" expression");
  // legend
  const leg=g.append("g").attr("transform",`translate(${p.legX},${p.legY})`);
  leg.append("text").attr("y",4.5).attr("font-size",12.4).attr("fill",FONT_INK).text("Type");
  groupNames.forEach((nm,i)=>{
    const kx=44.4+i*69.2;
    const k=leg.append("g").attr("transform",`translate(${kx},0)`);
    k.append("line").attr("y1",-8).attr("y2",8).attr("stroke",groupColor[i]).attr("stroke-width",1);
    k.append("rect").attr("x",-7.6).attr("width",15.2).attr("y",-5.5).attr("height",11).attr("fill","#fff").attr("stroke",groupColor[i]).attr("stroke-width",1.1);
    k.append("line").attr("x1",-7.6).attr("x2",7.6).attr("stroke",groupColor[i]).attr("stroke-width",1.1);
    leg.append("text").attr("x",kx+16.7).attr("y",4).attr("font-size",11.2).attr("fill",FONT_INK).text(nm);
  });
}
panels.forEach(drawBoxPanel);

// ---------- H heat map ----------
(function(){
  letter("H",662,1288);
  const L=824.2,R=1125,T=1337,B=1743;
  const xb=d3.scaleBand().domain(heatColumns).range([L,R]);
  const yb=d3.scaleBand().domain(heatRows).range([T,B]);
  const color=d3.scaleLinear().domain([-2.46,-1.75,-1,0.55,3.55]).range(["#6DBE45","#2DB34A","#0B8F46","#000000","#ED1C24"]);
  const g=svg.append("g");
  heatRows.forEach((r,ri)=>{
    g.append("g").selectAll("rect").data(heatValues[ri]).join("rect")
      .attr("x",(d,i)=>xb(heatColumns[i])).attr("y",yb(r)).attr("width",xb.bandwidth()).attr("height",yb.bandwidth())
      .attr("fill",d=>color(d)).attr("stroke","#8a8a8a").attr("stroke-width",0.9);
  });
  g.append("g").selectAll("text").data(heatRows).join("text").attr("x",R+3).attr("y",d=>yb(d)+yb.bandwidth()/2+3.5).attr("font-size",10).attr("fill",FONT_INK).text(d=>d);
  g.append("g").selectAll("text").data(heatColumns).join("text")
    .attr("transform",d=>`translate(${xb(d)+xb.bandwidth()/2-6.2},${B+4}) rotate(90)`).attr("font-size",9.3).attr("fill",FONT_INK).text(d=>d);
  // dendrograms
  const topY=d3.scaleLinear().domain([0,64]).range([T,T-64]);
  const leftX=d3.scaleLinear().domain([0,64]).range([L,L-63.3]);
  function walk(node,pos,emit){
    if(typeof node==="string") return {p:pos(node),h:0};
    const a=walk(node[1],pos,emit), b=walk(node[2],pos,emit);
    emit(a,b,node[0]);
    return {p:(a.p+b.p)/2,h:node[0]};
  }
  const dend=g.append("g").attr("fill","none").attr("stroke","#444").attr("stroke-width",1);
  walk(columnTree,n=>xb(n)+xb.bandwidth()/2,(a,b,h)=>{
    dend.append("path").attr("d",`M${a.p},${topY(a.h)}V${topY(h)}H${b.p}V${topY(b.h)}`);
  });
  walk(rowTree,n=>yb(n)+yb.bandwidth()/2,(a,b,h)=>{
    dend.append("path").attr("d",`M${leftX(a.h)},${a.p}H${leftX(h)}V${b.p}H${leftX(b.h)}`);
  });
  // colour key
  const ky=d3.scaleLinear().domain([3.55,-2.46]).range([T,1519]);
  const steps=d3.range(0,120).map(i=>3.55-i*(6.01/120));
  g.append("g").selectAll("rect").data(steps).join("rect").attr("x",1164.6).attr("width",11.9)
    .attr("y",d=>ky(d)).attr("height",ky(0)-ky(6.01/120)+0.5).attr("fill",d=>color(d));
  g.append("g").selectAll("text").data(heatTicks).join("text").attr("x",1180.6).attr("y",d=>ky(d)+3.5).attr("font-size",10).attr("fill",FONT_INK)
    .text(d=>d<0?"\u2212"+Math.abs(d):d);
})();

// ---------- I correlation ----------
(function(){
  letter("I",3,1812);
  const L=146.7,R=497.3,T=1894,B=2244;
  const xb=d3.scaleBand().domain(corrGenes).range([L,R]);
  const yb=d3.scaleBand().domain(corrGenes).range([T,B]);
  const col=d3.scaleLinear().domain([-1,-0.8,-0.6,-0.4,-0.2,0,0.2,0.4,0.6,0.8,1])
    .range(["#7A1022","#B2182B","#D6604D","#F4A582","#FDDBC7","#FFFFFF","#D1E5F0","#92C5DE","#4393C3","#1F62A8","#1A3263"]);
  const rad=d3.scaleSqrt().domain([0,1]).range([0,22.7]);
  const g=svg.append("g");
  const cells=[];
  corrValues.forEach((row,i)=>row.forEach((v,j)=>cells.push({i,j,v})));
  g.append("g").selectAll("rect").data(cells).join("rect")
    .attr("x",d=>xb(corrGenes[d.j])).attr("y",d=>yb(corrGenes[d.i])).attr("width",xb.bandwidth()).attr("height",yb.bandwidth())
    .attr("fill","#fff").attr("stroke","#cfcfcf").attr("stroke-width",1.1);
  g.append("g").selectAll("circle").data(cells.filter(d=>d.j>=d.i)).join("circle")
    .attr("cx",d=>xb(corrGenes[d.j])+xb.bandwidth()/2).attr("cy",d=>yb(corrGenes[d.i])+yb.bandwidth()/2)
    .attr("r",d=>rad(Math.abs(d.v))).attr("fill",d=>col(d.v));
  const f2=d3.format(".2f");
  g.append("g").selectAll("text").data(cells.filter(d=>d.j<d.i)).join("text")
    .attr("x",d=>xb(corrGenes[d.j])+xb.bandwidth()/2+(d.v<0?0:2)).attr("y",d=>yb(corrGenes[d.i])+yb.bandwidth()/2+5)
    .attr("text-anchor","middle").attr("font-size",13.5).attr("font-weight","bold").attr("fill","#000")
    .text(d=>(d.v<0?"\u2212":"")+f2(Math.abs(d.v)));
  g.append("g").selectAll("text").data(corrGenes).join("text").attr("x",L-7).attr("y",d=>yb(d)+yb.bandwidth()/2+2)
    .attr("text-anchor","end").attr("font-size",13.5).attr("fill",RED).text(d=>d);
  g.append("g").selectAll("text").data(corrGenes).join("text")
    .attr("transform",d=>`translate(${xb(d)+xb.bandwidth()/2+5},${T-5}) rotate(-90)`).attr("font-size",13.5).attr("fill",RED).text(d=>d);
  // bar
  const by=d3.scaleLinear().domain([1,-1]).range([T,B]);
  const bsteps=d3.range(0,200).map(i=>1-i*0.01);
  g.append("g").selectAll("rect").data(bsteps).join("rect").attr("x",503).attr("width",13.7)
    .attr("y",d=>by(d)).attr("height",by(0)-by(0.01)+0.4).attr("fill",d=>col(d-0.005));
  g.append("g").selectAll("line").data(corrTicks).join("line").attr("x1",516.7).attr("x2",519.2).attr("y1",d=>by(d)).attr("y2",d=>by(d)).attr("stroke","#555").attr("stroke-width",0.8);
  g.append("g").selectAll("text").data(corrTicks).join("text").attr("x",530.3).attr("y",d=>by(d)+4).attr("text-anchor","middle").attr("font-size",11.5).attr("fill",FONT_INK)
    .text(d=>(d<0?"\u2212":"")+Math.abs(d));
})();

// ---------- J network ----------
(function(){
  letter("J",662,1812);
  const pos=netLayout;
  const w=d3.scaleLinear().domain([0,1]).range([0.3,2.4]);
  const g=svg.append("g");
  g.append("g").selectAll("line").data(netEdges).join("line")
    .attr("x1",d=>pos[d[0]][0]).attr("y1",d=>pos[d[0]][1]).attr("x2",d=>pos[d[1]][0]).attr("y2",d=>pos[d[1]][1])
    .attr("stroke","#DFDADA").attr("stroke-width",d=>w(d[2]));
  g.append("g").selectAll("circle").data(netNodes).join("circle").attr("cx",d=>pos[d][0]).attr("cy",d=>pos[d][1]).attr("r",8.5).attr("fill","#62C3D9");
  g.append("g").selectAll("text").data(netNodes).join("text").attr("x",d=>pos[d][0]).attr("y",d=>pos[d][1]+5.5).attr("text-anchor","middle").attr("font-size",15.6).attr("fill","#1a1a1a").text(d=>d);
})();
</script></body></html>
